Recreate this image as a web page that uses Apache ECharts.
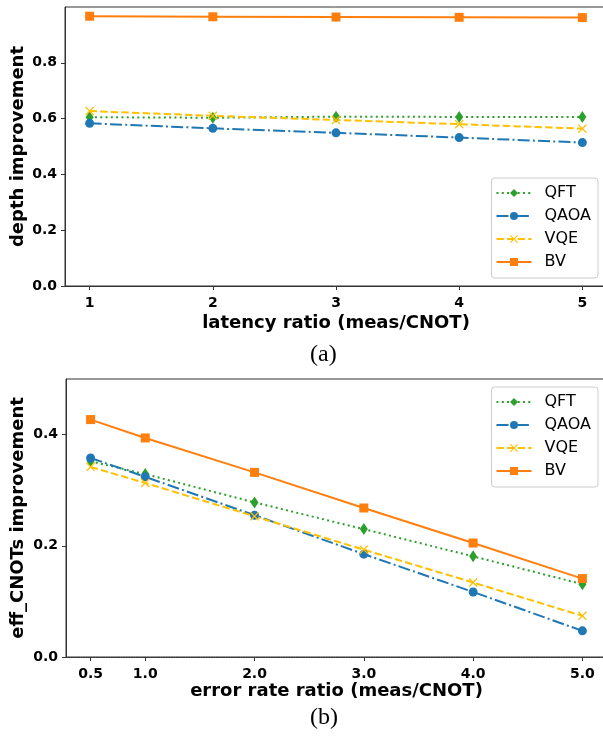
<!DOCTYPE html>
<html>
<head>
<meta charset="utf-8">
<script src="https://cdn.jsdelivr.net/npm/echarts@6/dist/echarts.min.js"></script>
<style>
html,body{margin:0;padding:0;background:#fff;}
#chart{width:603px;height:743px;}
</style>
</head>
<body>
<div id="chart"></div>
<script>
// ---- data (a) ----
const latencyRatio = [1, 2, 3, 4, 5];
const depthQFT  = [0.605, 0.603, 0.607, 0.606, 0.606];
const depthQAOA = [0.583, 0.565, 0.549, 0.532, 0.514];
const depthVQE  = [0.627, 0.610, 0.595, 0.580, 0.564];
const depthBV   = [0.967, 0.965, 0.964, 0.963, 0.962];
const depthYTicks = [0, 0.2, 0.4, 0.6, 0.8];

// ---- data (b) ----
const errorRatio = [0.5, 1.0, 2.0, 3.0, 4.0, 5.0];
const effQFT  = [0.352, 0.329, 0.278, 0.230, 0.181, 0.131];
const effQAOA = [0.358, 0.324, 0.255, 0.185, 0.117, 0.047];
const effVQE  = [0.342, 0.313, 0.253, 0.193, 0.134, 0.074];
const effBV   = [0.427, 0.394, 0.332, 0.268, 0.205, 0.141];
const effYTicks = [0, 0.2, 0.4];

const seriesNames = ['QFT', 'QAOA', 'VQE', 'BV'];

const FONT = 'DejaVu Sans';
const AX = '#333';
const xMark = 'path://M0,1L1,0L5,4L9,0L10,1L6,5L10,9L9,10L5,6L1,10L0,9L4,5Z';

const styles = {
  QFT:  {color: '#2ca02c', type: [2, 3.3], symbol: 'diamond', size: [8, 12]},
  QAOA: {color: '#1f77b4', type: [12, 3.2, 2, 3.2], symbol: 'circle', size: 9},
  VQE:  {color: '#ffc000', type: [7.4, 3.2], symbol: xMark, size: 9},
  BV:   {color: '#ff7f0e', type: 'solid', symbol: 'rect', size: 9}
};

function zip(xs, ys) { return xs.map((x, i) => [x, ys[i]]); }

function mkSeries(name, xs, ys, idx) {
  const s = styles[name];
  return {
    name: name, type: 'line', xAxisIndex: idx, yAxisIndex: idx,
    data: zip(xs, ys),
    symbol: s.symbol, symbolSize: s.size, showAllSymbol: true,
    lineStyle: {color: s.color, width: 2, type: s.type},
    itemStyle: {color: s.color},
    emphasis: {disabled: true},
    animation: false
  };
}

function xAxisCfg(idx, min, max, ticks, name, fmt, gap, lineType) {
  return {
    type: 'value', gridIndex: idx, min: min, max: max,
    name: name, nameLocation: 'middle', nameGap: gap, nameMoveOverlap: false,
    nameTextStyle: {fontFamily: FONT, fontWeight: 'bold', fontSize: 18, color: '#000'},
    axisLine: {lineStyle: {color: AX, width: 1, type: lineType}},
    axisTick: {show: true, length: 4, customValues: ticks, lineStyle: {color: AX, type: 'solid'}},
    axisLabel: {customValues: ticks, formatter: fmt, margin: 10,
      fontFamily: FONT, fontWeight: 'bold', fontSize: 14, color: '#000'},
    splitLine: {show: false}
  };
}
function yAxisCfg(idx, min, max, ticks, name, gap) {
  return {
    type: 'value', gridIndex: idx, min: min, max: max,
    name: name, nameLocation: 'middle', nameGap: gap, nameMoveOverlap: false,
    nameTextStyle: {fontFamily: FONT, fontWeight: 'bold', fontSize: 18, color: '#000'},
    axisLine: {show: true, lineStyle: {color: AX, width: 1}},
    axisTick: {show: true, length: 4, customValues: ticks, lineStyle: {color: AX}},
    axisLabel: {customValues: ticks, formatter: v => Number(v).toFixed(1), margin: 8,
      fontFamily: FONT, fontWeight: 'bold', fontSize: 14, color: '#000'},
    splitLine: {show: false}
  };
}

const legendBase = {
  orient: 'vertical', right: 5, itemWidth: 35, itemHeight: 10, itemGap: 7,
  padding: [7, 7, 8, 4], backgroundColor: '#fff', borderColor: '#ccc', borderWidth: 1, borderRadius: 3,
  textStyle: {fontFamily: FONT, fontSize: 16, lineHeight: 16, color: '#000', padding: [0, 0, 0, 8]},
  data: seriesNames
};

const chart = echarts.init(document.getElementById('chart'), null, {renderer: 'canvas'});
chart.setOption({
  backgroundColor: '#fff',
  animation: false,
  grid: [
    {left: 65, top: 7, width: 542, height: 279, outerBoundsMode: 'none', containLabel: false, show: true, borderColor: AX, borderWidth: 1, backgroundColor: 'transparent'},
    {left: 66, top: 379, width: 541, height: 278, outerBoundsMode: 'none', containLabel: false, show: true, borderColor: AX, borderWidth: 1, backgroundColor: 'transparent'}
  ],
  xAxis: [
    xAxisCfg(0, 0.8, 5.2, latencyRatio, 'latency ratio (meas/CNOT)', v => String(v), 28, 'solid'),
    xAxisCfg(1, 0.275, 5.225, errorRatio, 'error rate ratio (meas/CNOT)', v => Number(v).toFixed(1), 25, [1.5, 1])
  ],
  yAxis: [
    yAxisCfg(0, 0, 1.0, depthYTicks, 'depth improvement', 38),
    yAxisCfg(1, 0, 0.5, effYTicks, 'eff_CNOTs improvement', 39)
  ],
  legend: [
    Object.assign({}, legendBase, {top: 178}),
    Object.assign({}, legendBase, {top: 387})
  ],
  graphic: [
    {type: 'text', left: 310, top: 343, style: {text: '(a)', font: '24px "Liberation Serif"', fill: '#000'}},
    {type: 'text', left: 310, top: 706, style: {text: '(b)', font: '24px "Liberation Serif"', fill: '#000'}}
  ],
  series: [
    mkSeries('QFT', latencyRatio, depthQFT, 0),
    mkSeries('QAOA', latencyRatio, depthQAOA, 0),
    mkSeries('VQE', latencyRatio, depthVQE, 0),
    mkSeries('BV', latencyRatio, depthBV, 0),
    mkSeries('QFT', errorRatio, effQFT, 1),
    mkSeries('QAOA', errorRatio, effQAOA, 1),
    mkSeries('VQE', errorRatio, effVQE, 1),
    mkSeries('BV', errorRatio, effBV, 1)
  ]
});
</script>
</body>
</html>
